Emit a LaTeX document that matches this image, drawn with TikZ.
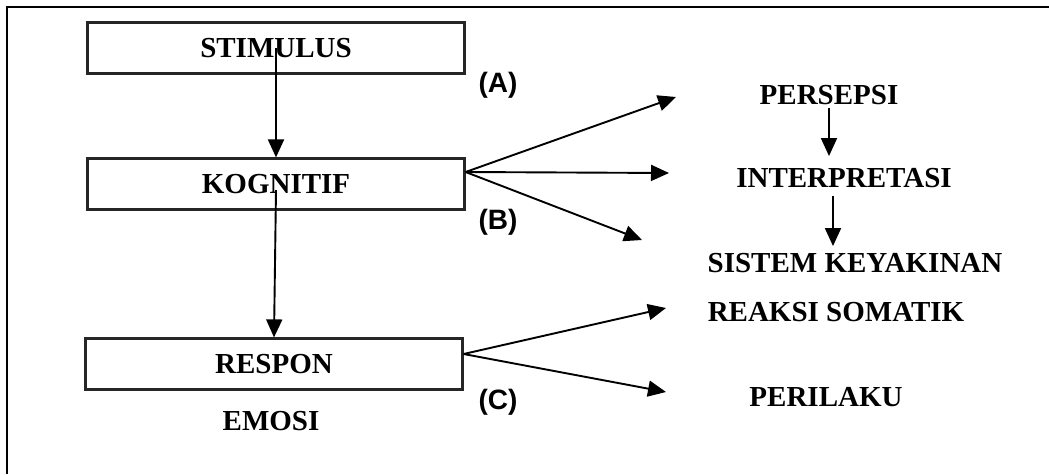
\documentclass[tikz,border=0pt]{standalone}
\usepackage{fontspec}
\setmainfont{Liberation Serif}
\setsansfont{Liberation Sans}
\usetikzlibrary{arrows.meta}
\tikzset{
  kotak/.style={draw=black!85,line width=2.2pt,minimum width=377pt,minimum height=51pt,inner sep=0pt},
  teks/.style={inner sep=0pt,font=\bfseries\fontsize{29}{32}\selectfont},
  huruf/.style={inner sep=0pt,font=\sffamily\bfseries\fontsize{28}{32}\selectfont},
  panah/.style={-{Triangle[length=18pt,width=16pt]},line width=1.9pt}
}
\begin{document}
\begin{tikzpicture}[x=1pt,y=-1pt]
\useasboundingbox (0,0) rectangle (1049,474);
\draw[line width=2.2pt](7,474)--(7,7)--(1049,7);
% kotak kiri
\node[kotak,teks](stim)at(276,48){STIMULUS};
\node[kotak,teks](kog)at(276,184){KOGNITIF};
\node[kotak,teks](resp)at(274,364){RESPON};
\node[teks](emosi)at(271,421){EMOSI};
\node[huruf](la)at(498,85){(A)};
\node[huruf](lb)at(498,222){(B)};
\node[huruf](lc)at(498,402){(C)};
% teks kanan
\node[teks](pers)at(829,95){PERSEPSI};
\node[teks](intp)at(844,178){INTERPRETASI};
\node[teks](sist)at(855,263){SISTEM KEYAKINAN};
\node[teks](reak)at(836,312){REAKSI SOMATIK};
\node[teks](peri)at(826,397){PERILAKU};
\coordinate(kfan)at([yshift=12pt]kog.east);
\coordinate(rfan)at([yshift=10pt]resp.east);
\coordinate(k1)at(676,97);
\coordinate(k2)at(669,173);
\coordinate(k3)at(642,240);
\coordinate(r1)at(666,308);
\coordinate(r2)at(666,392);
\draw[panah](stim.center)--(stim.center|-kog.north);
\draw[panah]([yshift=-6pt]kog.center)--(resp.north);
\foreach \k in {k1,k2,k3}{\draw[panah](kfan)--(\k);}
\foreach \r in {r1,r2}{\draw[panah](rfan)--(\r);}
\draw[panah,shorten <=3pt,shorten >=12pt](pers.south)--(pers.south|-intp.north);
\draw[panah,shorten <=8pt,shorten >=7pt]([xshift=-11pt]intp.south)--([xshift=-11pt]intp.south|-sist.north);
\end{tikzpicture}
\end{document}
